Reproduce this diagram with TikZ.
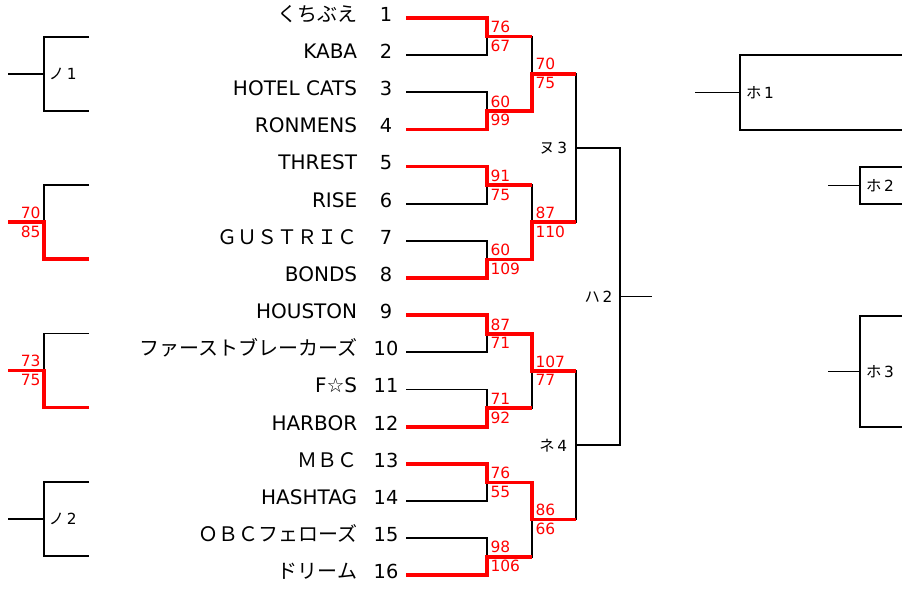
\documentclass[tikz,border=0pt]{standalone}
\usepackage{fontspec}
\setmainfont{DejaVu Sans}
\newfontfamily\jp{Noto Sans CJK JP}
\newcommand{\tagtext}[2]{{\jp #1}\hspace{2pt}#2}
\begin{document}
\begin{tikzpicture}[
        x=0.75pt, y=-0.75pt,
        line width=1.3pt,
        win/.style={red, line width=2.8pt},
        team/.style={anchor=east, inner sep=0pt, text height=0.73em, text depth=0pt, font=\fontsize{15}{17}\selectfont},
        seed/.style={inner sep=0pt, text height=0.73em, text depth=0pt, font=\fontsize{14.5}{16}\selectfont},
        score/.style={text=red, inner sep=2pt, font=\fontsize{11.6}{13}\selectfont},
        tag/.style={inner sep=0pt, font=\fontsize{11.5}{13}\selectfont}
    ]
    \useasboundingbox (0,0) rectangle (902,590);
    \foreach \name [count=\i] in {{\jp くちぶえ}, KABA, HOTEL CATS, RONMENS, THREST, RISE, {\jp ＧＵＳＴＲＩＣ}, BONDS,
            HOUSTON, {\jp ファーストブレーカーズ}, F☆S, HARBOR, {\jp ＭＢＣ}, HASHTAG, {\jp ＯＢＣフェローズ}, {\jp ドリーム}} {
        \coordinate (s\i) at (406,{18+37.15*(\i-1)});
        \node [team] (t\i) at (358,{16.5+37.15*(\i-1)}) {\name};
        \node [seed] (n\i) at (386,{16.5+37.15*(\i-1)}) {\i};
    }
    \foreach \k in {1,...,8} \coordinate (a\k) at (487,{36.6+74.3*(\k-1)});
    \foreach \k in {1,...,4} \coordinate (b\k) at (532,{73.7+148.6*(\k-1)});
    \coordinate (c1) at (576,148);
    \coordinate (c2) at (576,445.2);
    \coordinate (d1) at (620,296.6);
    \coordinate (e1) at (652,296.6);

    \foreach \i in {1,...,16} {
        \pgfmathtruncatemacro\k{(\i+1)/2}
        \draw (s\i) -| (a\k);
    }
    \foreach \k in {1,...,8} {
        \pgfmathtruncatemacro\m{(\k+1)/2}
        \draw (a\k) -| (b\m);
    }
    \foreach \m in {1,...,4} {
        \pgfmathtruncatemacro\n{(\m+1)/2}
        \draw (b\m) -| (c\n);
    }
    \draw (c1) -| (d1);
    \draw (c2) -| (d1);
    \draw (d1) -- (e1);

    \draw [win] (s1) -| (a1) -- (a1 -| b1);
    \draw [win] (s4) -| (a2) -| (b1) -- (b1 -| c1);
    \draw [win] (s5) -| (a3) -- (a3 -| b2);
    \draw [win] (s8) -| (a4) -| (b2) -- (b2 -| c1);
    \draw [win] (s9) -| (a5) -| (b3) -- (b3 -| c2);
    \draw [win] (s12) -| (a6) -- (a6 -| b3);
    \draw [win] (s13) -| (a7) -| (b4) -- (b4 -| c2);
    \draw [win] (s16) -| (a8) -- (a8 -| b4);

    \foreach \p/\q [count=\k] in {76/67, 60/99, 91/75, 60/109, 87/71, 71/92, 76/55, 98/106} {
        \node [score, anchor=south west] (p\k) at (a\k) {\p};
        \node [score, anchor=north west] (q\k) at (a\k) {\q};
    }
    \foreach \p/\q [count=\k] in {70/75, 87/110, 107/77, 86/66} {
        \node [score, anchor=south west] (pp\k) at (b\k) {\p};
        \node [score, anchor=north west] (qq\k) at (b\k) {\q};
    }
    \node [tag, anchor=east] (nu3) at ([xshift=-6pt]c1) {\tagtext{ヌ}{3}};
    \node [tag, anchor=east] (ne4) at ([xshift=-6pt]c2) {\tagtext{ネ}{4}};
    \node [tag, anchor=east] (ha2) at ([xshift=-5pt]d1) {\tagtext{ハ}{2}};

    \foreach \k in {1,...,4} {
        \coordinate (lt\k) at (89,{37+148.3*(\k-1)});
        \coordinate (lb\k) at (89,{111+148.3*(\k-1)});
        \coordinate (ln\k) at (44,{74+148.3*(\k-1)});
        \coordinate (lo\k) at (8,{74+148.3*(\k-1)});
        \draw (lt\k) -| (ln\k) |- (lb\k);
        \draw (ln\k) -- (lo\k);
    }
    \draw [win] (lb2) -| (ln2) -- (lo2);
    \draw [win] (lb3) -| (ln3) -- (lo3);
    \node [score, anchor=south east] (lp2) at (ln2) {70};
    \node [score, anchor=north east] (lq2) at (ln2) {85};
    \node [score, anchor=south east] (lp3) at (ln3) {73};
    \node [score, anchor=north east] (lq3) at (ln3) {75};
    \node [tag, anchor=west] (no1) at ([xshift=3pt]ln1) {\tagtext{ノ}{1}};
    \node [tag, anchor=west] (no2) at ([xshift=3pt]ln4) {\tagtext{ノ}{2}};

    \coordinate (h1) at (740,92.5);
    \coordinate (ht1) at (902,55);
    \coordinate (hb1) at (902,130);
    \coordinate (ho1) at (695,92.5);
    \coordinate (h2) at (860,185.5);
    \coordinate (ht2) at (902,167);
    \coordinate (hb2) at (902,204);
    \coordinate (ho2) at (828,185.5);
    \coordinate (h3) at (860,371.5);
    \coordinate (ht3) at (902,316);
    \coordinate (hb3) at (902,427);
    \coordinate (ho3) at (828,371.5);
    \foreach \k in {1,2,3} {
        \draw (ht\k) -| (h\k) |- (hb\k);
        \draw (h\k) -- (ho\k);
        \node [tag, anchor=west] (hl\k) at ([xshift=4pt]h\k) {\tagtext{ホ}{\k}};
    }
\end{tikzpicture}
\end{document}
